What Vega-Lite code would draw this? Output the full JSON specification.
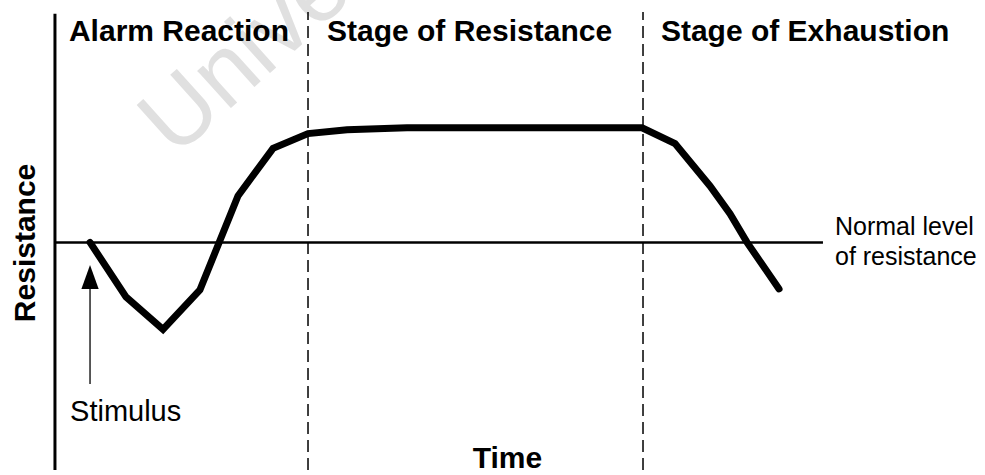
{
  "$schema": "https://vega.github.io/schema/vega-lite/v6.json",
  "width": 985,
  "height": 475,
  "autosize": {"type": "fit", "contains": "padding"},
  "padding": 0,
  "background": "white",
  "config": {"view": {"stroke": null}, "font": "Liberation Sans"},
  "datasets": {
    "curve": [
      {"i": 1, "t": 9.14, "r": 0},
      {"i": 2, "t": 12.79, "r": -22.5},
      {"i": 3, "t": 16.55, "r": -35.9},
      {"i": 4, "t": 20.3, "r": -19.6},
      {"i": 5, "t": 24.16, "r": 19.2},
      {"i": 6, "t": 27.72, "r": 38.8},
      {"i": 7, "t": 31.27, "r": 44.9},
      {"i": 8, "t": 35.23, "r": 46.5},
      {"i": 9, "t": 41.32, "r": 47.3},
      {"i": 10, "t": 65.18, "r": 47.3},
      {"i": 11, "t": 68.53, "r": 40.8},
      {"i": 12, "t": 72.08, "r": 23.3},
      {"i": 13, "t": 74.11, "r": 11.8},
      {"i": 14, "t": 75.84, "r": 0},
      {"i": 15, "t": 79.09, "r": -19.2}
    ],
    "yaxis": [{"t": 5.58, "r": -93.9, "r2": 94.3}],
    "normal": [{"t": 5.58, "t2": 83.55, "r": 0}],
    "stages": [
      {"t": 31.27, "r": -93.9, "r2": 95.1},
      {"t": 65.28, "r": -93.9, "r2": 95.1}
    ],
    "stimulus": [{"t": 9.14, "r": -18.6, "r2": -58.4, "label": "Stimulus", "lt": 7.11, "lr": -73.5, "hr": -14.3}],
    "stageLabels": [
      {"t": 7.0, "r": 83.26, "label": "Alarm Reaction"},
      {"t": 33.2, "r": 83.26, "label": "Stage of Resistance"},
      {"t": 67.1, "r": 83.26, "label": "Stage of Exhaustion"}
    ],
    "axisTitles": [
      {"t": 51.52, "r": -93.1, "label": "Time"}
    ],
    "yTitle": [{"t": 3.55, "r": -0.22, "label": "Resistance"}],
    "normalLabel": [{"t": 84.77, "r": 2.85, "label": ["Normal level", "of resistance"]}],
    "watermark": [{"t": 17.77, "r": 34.6, "label": "University of Cape Town"}]
  },
  "encoding": {
    "x": {"field": "t", "type": "quantitative", "scale": {"domain": [0, 100], "nice": false, "zero": false}, "axis": null},
    "y": {"field": "r", "type": "quantitative", "scale": {"domain": [-93.9, 100], "nice": false, "zero": false}, "axis": null}
  },
  "layer": [
    {
      "data": {"name": "watermark"},
      "mark": {"type": "text", "align": "left", "baseline": "alphabetic", "angle": 318, "fontSize": 95, "color": "#e0e0e0", "clip": true},
      "encoding": {"text": {"field": "label"}}
    },
    {
      "data": {"name": "yaxis"},
      "mark": {"type": "rule", "strokeWidth": 3, "color": "black"},
      "encoding": {"y2": {"field": "r2"}}
    },
    {
      "data": {"name": "normal"},
      "mark": {"type": "rule", "strokeWidth": 2.5, "color": "black"},
      "encoding": {"x2": {"field": "t2"}}
    },
    {
      "data": {"name": "stages"},
      "mark": {"type": "rule", "strokeWidth": 1.5, "strokeDash": [12, 6], "color": "black"},
      "encoding": {"y2": {"field": "r2"}}
    },
    {
      "data": {"name": "curve"},
      "mark": {"type": "line", "strokeWidth": 7, "color": "black", "strokeJoin": "miter", "strokeCap": "round"},
      "encoding": {"order": {"field": "i", "type": "quantitative"}}
    },
    {
      "data": {"name": "stimulus"},
      "mark": {"type": "rule", "strokeWidth": 1.3, "color": "black"},
      "encoding": {"y2": {"field": "r2"}}
    },
    {
      "data": {"name": "stimulus"},
      "mark": {"type": "point", "shape": "M0,-1L-0.72,1L0.72,1Z", "size": 576, "filled": true, "color": "black", "opacity": 1},
      "encoding": {"y": {"field": "hr", "type": "quantitative"}}
    },
    {
      "data": {"name": "stimulus"},
      "mark": {"type": "text", "align": "left", "baseline": "alphabetic", "fontSize": 29, "color": "black"},
      "encoding": {"x": {"field": "lt", "type": "quantitative"}, "y": {"field": "lr", "type": "quantitative"}, "text": {"field": "label"}}
    },
    {
      "data": {"name": "stageLabels"},
      "mark": {"type": "text", "align": "left", "baseline": "alphabetic", "fontSize": 30, "fontWeight": "bold", "color": "black"},
      "encoding": {"text": {"field": "label"}}
    },
    {
      "data": {"name": "axisTitles"},
      "mark": {"type": "text", "align": "center", "baseline": "alphabetic", "fontSize": 30, "fontWeight": "bold", "color": "black"},
      "encoding": {"text": {"field": "label"}}
    },
    {
      "data": {"name": "yTitle"},
      "mark": {"type": "text", "align": "center", "baseline": "alphabetic", "angle": 270, "fontSize": 30, "fontWeight": "bold", "color": "black"},
      "encoding": {"text": {"field": "label"}}
    },
    {
      "data": {"name": "normalLabel"},
      "mark": {"type": "text", "align": "left", "baseline": "alphabetic", "fontSize": 25, "lineHeight": 30, "color": "black"},
      "encoding": {"text": {"field": "label"}}
    }
  ]
}
